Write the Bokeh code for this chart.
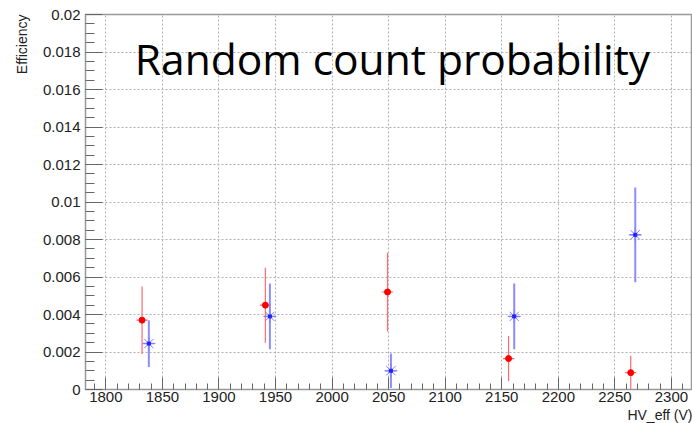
import math
from bokeh.plotting import figure
from bokeh.models import (FixedTicker, CustomJSTickFormatter, Label, Title, ColumnDataSource, Range1d)
from bokeh.embed import file_html
from bokeh.resources import INLINE

# ---- data ----
hv_red = [1832, 1941, 2049, 2156, 2264]
eff_red = [0.0037, 0.0045, 0.0052, 0.00165, 0.0009]
err_red = [0.0018, 0.0020, 0.0021, 0.0012, 0.0009]

hv_blue = [1838, 1945, 2052, 2161, 2268]
eff_blue = [0.00245, 0.0039, 0.0010, 0.0039, 0.00825]
err_blue = [0.00125, 0.00175, 0.00092, 0.00175, 0.00253]

hv_err = 5

x_major = [1800, 1850, 1900, 1950, 2000, 2050, 2100, 2150, 2200, 2250, 2300]
y_major = [0, 0.002, 0.004, 0.006, 0.008, 0.01, 0.012, 0.014, 0.016, 0.018, 0.02]

title_text = "Random count probability"
x_title = "HV_eff (V)"
y_title = "Efficiency"

# ---- figure ----
p = figure(width=692, height=423, output_backend="svg", toolbar_location=None,
           x_range=Range1d(1782, 2318.6), y_range=Range1d(0, 0.02),
           min_border_left=85, min_border_right=0, min_border_top=14, min_border_bottom=34)
p.background_fill_color = "white"
p.border_fill_color = "white"
p.outline_line_color = "#999999"
p.outline_line_width = 1.5

x_minor = [v for v in range(1780, 2330, 10)]
y_minor = [i * 0.0005 for i in range(0, 41)]
p.xaxis.ticker = FixedTicker(ticks=x_major, minor_ticks=x_minor)
p.yaxis.ticker = FixedTicker(ticks=y_major, minor_ticks=y_minor)
p.yaxis.formatter = CustomJSTickFormatter(code="return parseFloat(tick.toFixed(4)).toString();")

for ax, mj, mn in ((p.xaxis, 12, 6), (p.yaxis, 17, 9)):
    ax.major_tick_in = mj
    ax.major_tick_out = 0
    ax.minor_tick_in = mn
    ax.minor_tick_out = 0
    ax.major_tick_line_color = "#666666"
    ax.minor_tick_line_color = "#666666"
    ax.axis_line_color = "#999999"
    ax.major_label_text_font = "Liberation Sans"
    ax.major_label_text_font_size = "15px"
    ax.major_label_text_color = "#222222"
p.xaxis.major_label_standoff = 2
p.yaxis.major_label_standoff = 5

p.grid.grid_line_color = "#b0b0b0"
p.grid.grid_line_dash = "2 2"
p.grid.grid_line_width = 1

# ---- red series ----
src_r = ColumnDataSource(dict(
    x=hv_red, y=eff_red,
    y0=[v - e for v, e in zip(eff_red, err_red)],
    y1=[v + e for v, e in zip(eff_red, err_red)],
    x0=[v - hv_err for v in hv_red], x1=[v + hv_err for v in hv_red]))
p.segment("x", "y0", "x", "y1", source=src_r, line_color="#ff6a6a", line_width=1.2)
p.segment("x0", "y", "x1", "y", source=src_r, line_color="#ff6a6a", line_width=1.2)
p.scatter("x", "y", source=src_r, marker="circle", size=6, fill_color="#ff0000",
          line_color="#ff0000")

# ---- blue series ----
src_b = ColumnDataSource(dict(
    x=hv_blue, y=eff_blue,
    y0=[v - e for v, e in zip(eff_blue, err_blue)],
    y1=[v + e for v, e in zip(eff_blue, err_blue)],
    x0=[v - hv_err for v in hv_blue], x1=[v + hv_err for v in hv_blue]))
p.segment("x", "y0", "x", "y1", source=src_b, line_color="#8c8cff", line_width=2)
p.segment("x0", "y", "x1", "y", source=src_b, line_color="#8c8cff", line_width=1.5)
p.scatter("x", "y", source=src_b, marker="asterisk", size=13, line_color="#8080ff",
          line_width=1)
p.scatter("x", "y", source=src_b, marker="square", size=3, fill_color="#2020ff",
          line_color="#2020ff")

# ---- texts ----
p.add_layout(Label(x=1825.6, y=0.01765, text=title_text, text_font="Open Sans",
                   text_font_size="42.5px", text_color="black",
                   text_baseline="alphabetic", text_align="left"))

xt = Title(text=x_title, align="right", text_font="Liberation Sans",
           text_font_size="14px", text_color="#222222", text_font_style="normal",
           standoff=0, offset=0)
p.add_layout(xt, "below")
yt = Title(text=y_title, align="right", text_font="Liberation Sans",
           text_font_size="14px", text_color="#222222", text_font_style="normal",
           standoff=19, offset=0)
p.add_layout(yt, "left")

open("out.html", "w").write(file_html(p, INLINE))
